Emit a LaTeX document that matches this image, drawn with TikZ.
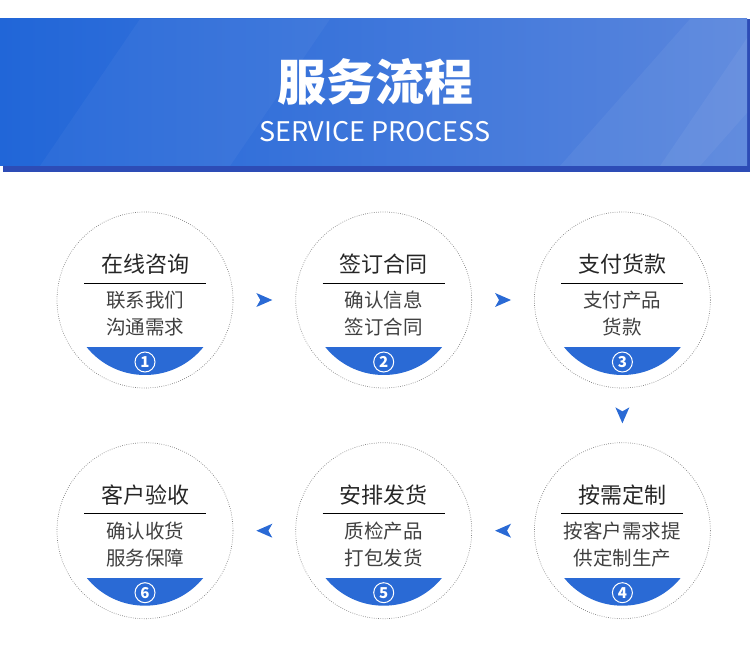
\documentclass[tikz,border=0pt]{standalone}
\usepackage{fontspec}
\setmainfont{Noto Sans CJK SC}
\usetikzlibrary{positioning, decorations.markings}

\definecolor{bandleft}{HTML}{2166D8}
\definecolor{bandright}{HTML}{5A86DD}
\definecolor{bandshadow}{HTML}{2D4CB6}
\definecolor{capblue}{HTML}{2A6AD5}

\tikzset{
    stepcircle/.style={ % dotted ring of one step
    circle, draw=black!50, line width=0.7pt, dash pattern=on 0.7pt off 1.5pt,
    minimum size=176pt, inner sep=0pt},
    steptitle/.style={font=\fontsize{22}{26}\selectfont, text=black!85},
    stepbody/.style={font=\fontsize{19.5}{27}\selectfont, text=black!75, align=center},
    stepnum/.style={ % white ring with the step number
    circle, draw=white, line width=1pt, minimum size=20pt, inner sep=0pt,
    text=white, font=\fontsize{15}{15}\selectfont\bfseries},
    flowarrow/.style={ % only a blue tip half way between two steps
    decoration={markings, mark=at position 0.5 with {\fill[capblue] (8pt,0pt) -- (-8pt,7pt) -- (-4pt,0pt) -- (-8pt,-7pt) -- cycle;}},
    decorate}}

\begin{document}
\begin{tikzpicture}[x=1pt, y=1pt, node distance=62pt]

        \useasboundingbox (0,0) rectangle (750,657);

        % Header band
        \fill[bandshadow] (3,485) rectangle (750,638);
        \shade[left color=bandleft, right color=bandright] (0,491) rectangle (747,638);
        \begin{scope}
            \clip (0,491) rectangle (747,638);
            \fill[white, opacity=0.04] (40,491) -- (230,491) -- (330,638) -- (140,638) -- cycle;
            \fill[white, opacity=0.05] (560,491) -- (700,491) -- (830,638) -- (690,638) -- cycle;
            \fill[white, opacity=0.05] (660,491) -- (760,491) -- (860,638) -- (760,638) -- cycle;
        \end{scope}
        \node[text=white, font=\fontsize{49}{49}\selectfont\bfseries] (title) at (375,575) {服务流程};
        \node[text=white, font=\fontsize{27}{27}\selectfont] (subtitle) at (375,525) {SERVICE PROCESS};

        % Steps (snake: left to right, then right to left)
        \node[stepcircle] (s1) at (145,357) {};
        \node[stepcircle, right=of s1] (s2) {};
        \node[stepcircle, right=of s2] (s3) {};
        \node[stepcircle, below=54pt of s3] (s4) {};
        \node[stepcircle, left=of s4] (s5) {};
        \node[stepcircle, left=of s5] (s6) {};

        % Rule, blue cap and number of each step
        \foreach \n in {1,...,6} {
            \draw[line width=0.8pt] ([xshift=-61pt, yshift=17pt]s\n.center) -- ([xshift=61pt, yshift=17pt]s\n.center);
            \begin{scope}
                \clip (s\n.center) circle (75pt);
                \fill[capblue] ([xshift=-80pt, yshift=-47pt]s\n.center) rectangle ([xshift=80pt, yshift=-80pt]s\n.center);
            \end{scope}
            \node[stepnum] (n\n) at ([yshift=-62pt]s\n.center) {\n};
        }

        % Titles
        \node[steptitle] (t1) at ([yshift=36pt]s1.center) {在线咨询};
        \node[steptitle] (t2) at ([yshift=36pt]s2.center) {签订合同};
        \node[steptitle] (t3) at ([yshift=36pt]s3.center) {支付货款};
        \node[steptitle] (t4) at ([yshift=36pt]s4.center) {按需定制};
        \node[steptitle] (t5) at ([yshift=36pt]s5.center) {安排发货};
        \node[steptitle] (t6) at ([yshift=36pt]s6.center) {客户验收};

        % Texts
        \node[stepbody] (b1) at ([yshift=-13.5pt]s1.center) {联系我们\\沟通需求};
        \node[stepbody] (b2) at ([yshift=-13.5pt]s2.center) {确认信息\\签订合同};
        \node[stepbody] (b3) at ([yshift=-13.5pt]s3.center) {支付产品\\货款};
        \node[stepbody] (b4) at ([yshift=-13.5pt]s4.center) {按客户需求提\\供定制生产};
        \node[stepbody] (b5) at ([yshift=-13.5pt]s5.center) {质检产品\\打包发货};
        \node[stepbody] (b6) at ([yshift=-13.5pt]s6.center) {确认收货\\服务保障};

        % Arrows
        \path[flowarrow] (s1) -- (s2);
        \path[flowarrow] (s2) -- (s3);
        \path[flowarrow] (s3) -- (s4);
        \path[flowarrow] (s4) -- (s5);
        \path[flowarrow] (s5) -- (s6);

    \end{tikzpicture}
\end{document}
